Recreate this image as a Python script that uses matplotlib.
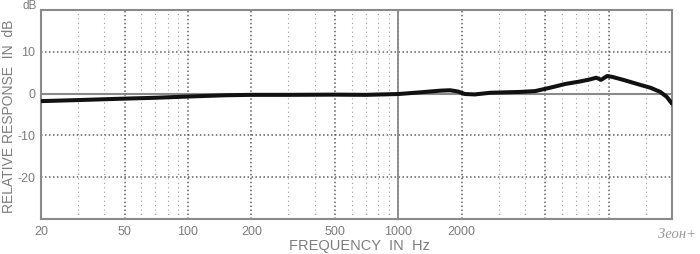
import matplotlib
matplotlib.use("Agg")
import matplotlib.pyplot as plt
from matplotlib.ticker import FixedLocator, FixedFormatter, NullFormatter

# ---- data ----
freqs = [20, 30, 50, 70, 100, 150, 200, 300, 500, 700, 1000, 1270, 1580, 1760,
         1920, 2070, 2310, 2730, 3200, 3800, 4470, 5260, 6210, 7310, 8160, 8720,
         9200, 9840, 10400, 11900, 14100, 15800, 17600, 18900, 20000]
response_db = [-1.8, -1.55, -1.2, -1.0, -0.7, -0.4, -0.3, -0.3, -0.25, -0.3, -0.1,
               0.3, 0.7, 0.8, 0.5, -0.1, -0.2, 0.2, 0.3, 0.4, 0.6, 1.4, 2.3, 2.9,
               3.4, 3.8, 3.3, 4.2, 4.0, 3.2, 2.1, 1.4, 0.4, -0.8, -2.4]

x_major = [20, 50, 100, 200, 500, 1000, 2000, 5000, 10000]
x_major_labels = ["20", "50", "100", "200", "500", "1000", "2000", "", ""]
x_minor = [30, 40, 60, 70, 80, 90, 300, 400, 600, 700, 800, 900,
           3000, 4000, 6000, 7000, 8000, 9000, 15000]
y_ticks = [-20, -10, 0, 10]
y_labels = ["-20", "-10", "0", "10"]

TXT = "#7d7d7d"
plt.rcParams["font.family"] = ["Liberation Sans", "DejaVu Sans"]

fig = plt.figure(figsize=(7.0, 2.54), dpi=100)
ax = fig.add_axes([41 / 700, 35 / 254, 631 / 700, 209 / 254])
ax.set_xscale("log")
ax.set_xlim(20, 20000)
ax.set_ylim(-30, 20)

ax.xaxis.set_major_locator(FixedLocator(x_major))
ax.xaxis.set_major_formatter(FixedFormatter(x_major_labels))
ax.xaxis.set_minor_locator(FixedLocator(x_minor))
ax.xaxis.set_minor_formatter(NullFormatter())
ax.set_yticks(y_ticks)
ax.set_yticklabels(y_labels)
ax.yaxis.set_minor_locator(FixedLocator([]))

ax.tick_params(which="both", length=0, colors=TXT, labelsize=9)
ax.tick_params(axis="x", pad=5)
ax.tick_params(axis="y", pad=4)

ax.grid(True, which="major", axis="both", color="#606060", linestyle=(0, (1, 1.6)), linewidth=1.1)
ax.grid(True, which="minor", axis="x", color="#a0a0a0", linestyle=(0, (1, 3)), linewidth=0.8)
ax.axhline(0, color="#8a8a8a", linewidth=1.5, zorder=2)
ax.axvline(1000, color="#8a8a8a", linewidth=1.3, zorder=2)

for s in ax.spines.values():
    s.set_color("#8a8a8a")
    s.set_linewidth(1.5)

ax.plot(freqs, response_db, color="#111111", linewidth=2.9,
        solid_capstyle="round", solid_joinstyle="round", zorder=3)

fig.text(360 / 700, 1 - 246 / 254, "FREQUENCY  IN  Hz", color=TXT, fontsize=10.5,
         ha="center", va="center")
fig.text(9 / 700, 1 - 116 / 254, "RELATIVE RESPONSE  IN  dB", color=TXT, fontsize=10,
         ha="center", va="center", rotation=90)

fig.text(30 / 700, 1 - 6 / 254, "dB", color=TXT, fontsize=8.5, ha="center", va="center")
fig.text(677 / 700, 1 - 234 / 254, "Зеон+", color="#9a9a9a", fontsize=10.5,
         style="italic", family=["Liberation Serif", "DejaVu Serif"], ha="center", va="center")

fig.savefig("out.png", dpi=100)
